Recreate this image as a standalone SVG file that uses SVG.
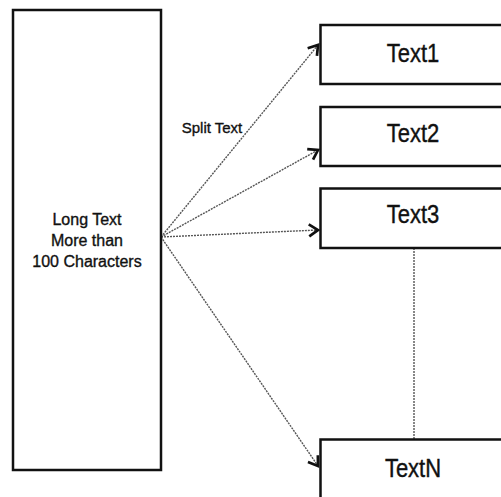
<svg xmlns="http://www.w3.org/2000/svg" width="501" height="497" viewBox="0 0 501 497">
<style>
.box{fill:#fff;stroke:#111;stroke-width:2.5}
.lbl{font-family:"Liberation Sans",Arial,sans-serif;fill:#111;stroke:#111;stroke-width:0.35;text-anchor:middle}
.big{font-size:22px}
.mid{font-size:16px}
.sm{font-size:15px}
.edge{fill:none;stroke:#555;stroke-width:1.4;stroke-dasharray:2 1}
</style>
<defs>
<marker id="arr" markerUnits="userSpaceOnUse" markerWidth="16" markerHeight="16" refX="12" refY="8" orient="auto">
<path d="M3,2 L12,8 L3,14" fill="none" stroke="#111" stroke-width="2.7"/>
</marker>
</defs>
<rect width="501" height="497" fill="#fff"/>
<g id="connectors">
<line class="edge" x1="161" y1="237" x2="318" y2="45" marker-end="url(#arr)"/>
<line class="edge" x1="161" y1="237" x2="318" y2="150" marker-end="url(#arr)"/>
<line class="edge" x1="161" y1="237" x2="318" y2="230" marker-end="url(#arr)"/>
<line class="edge" x1="161" y1="237" x2="318" y2="466" marker-end="url(#arr)"/>
<line class="edge" x1="414" y1="248" x2="414" y2="439"/>
<text class="lbl sm" x="212" y="133">Split Text</text>
</g>
<g id="source">
<rect class="box" x="13" y="10" width="148" height="460"/>
<text class="lbl mid" x="87" y="225">Long Text</text>
<text class="lbl mid" x="87" y="246">More than</text>
<text class="lbl mid" x="87" y="267">100 Characters</text>
</g>
<g id="text1">
<rect class="box" x="320.5" y="25" width="200" height="59"/>
<text class="lbl big" transform="translate(413,62) scale(1,1.15)">Text1</text>
</g>
<g id="text2">
<rect class="box" x="320.5" y="107" width="200" height="59"/>
<text class="lbl big" transform="translate(413,142) scale(1,1.15)">Text2</text>
</g>
<g id="text3">
<rect class="box" x="320.5" y="188.5" width="200" height="59.5"/>
<text class="lbl big" transform="translate(413,223) scale(1,1.15)">Text3</text>
</g>
<g id="textN">
<rect class="box" x="320.5" y="439.5" width="200" height="80"/>
<text class="lbl big" transform="translate(413,477) scale(1,1.15)">TextN</text>
</g>
</svg>
